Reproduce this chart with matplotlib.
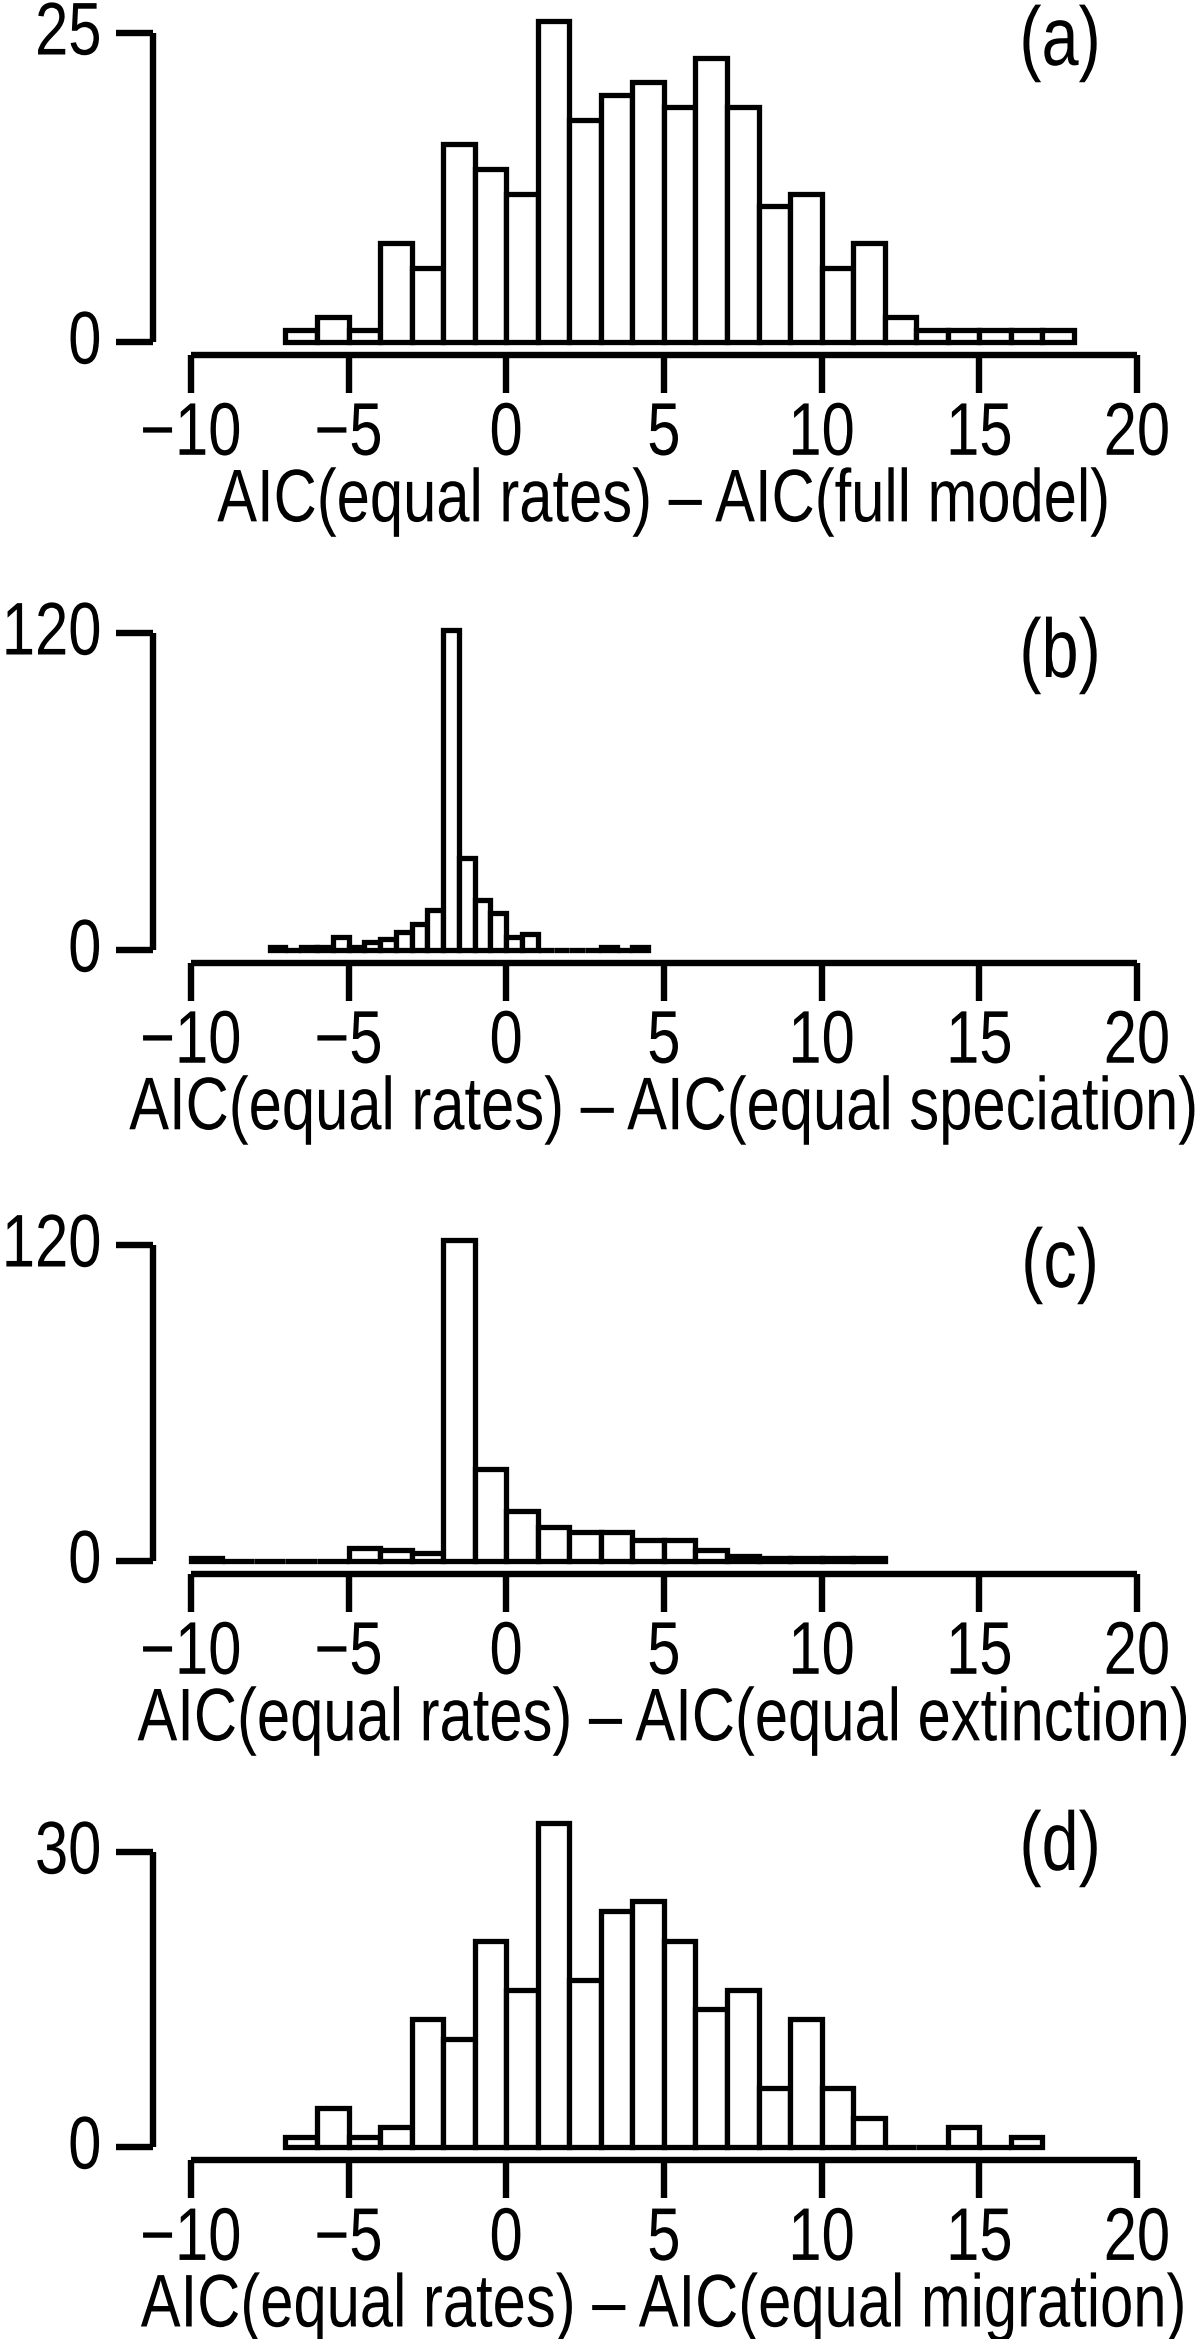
import numpy as np
import matplotlib
matplotlib.use("Agg")
import matplotlib.pyplot as plt
from matplotlib.patheffects import AbstractPathEffect
from matplotlib.transforms import Affine2D

# ---------------- data ----------------
a_start, a_width = -7, 1
a_counts = [1, 2, 1, 8, 6, 16, 14, 12, 26, 18, 20, 21, 19, 23, 19, 11, 12, 6, 8, 2, 1, 1, 1, 1, 1]
b_start, b_width = -7.5, 0.5
b_counts = [1, 0, 1, 1, 5, 1, 3, 4, 7, 10, 15, 121, 35, 19, 14, 5, 6, 0, 0, 0, 0, 1, 0, 1]
c_start, c_width = -10, 1
c_counts = [1, 0, 0, 0, 0, 5, 4, 3, 122, 35, 19, 13, 11, 11, 8, 8, 4, 2, 1, 1, 1, 1]
d_start, d_width = -7, 1
d_counts = [1, 4, 1, 2, 13, 11, 21, 16, 33, 17, 24, 25, 21, 14, 16, 6, 13, 6, 3, 0, 0, 2, 0, 1]

x_ticks = [-10, -5, 0, 5, 10, 15, 20]
x_tick_labels = ["\u221210", "\u22125", "0", "5", "10", "15", "20"]
y_ticks = [[0, 25], [0, 120], [0, 120], [0, 30]]
x_labels = ["AIC(equal rates) \u2013 AIC(full model)",
            "AIC(equal rates) \u2013 AIC(equal speciation)",
            "AIC(equal rates) \u2013 AIC(equal extinction)",
            "AIC(equal rates) \u2013 AIC(equal migration)"]
tags = ["(a)", "(b)", "(c)", "(d)"]

panels = [(a_start, a_width, a_counts), (b_start, b_width, b_counts),
          (c_start, c_width, c_counts), (d_start, d_width, d_counts)]

# ---------------- layout (pixels) ----------------
W, H, DPI = 1200, 2339, 100
zero_px = [342, 950, 1561, 2147]
toptick_px = [33, 633, 1245, 1852]
tag_px = [48, 660, 1270, 1853]
xm10_px, x20_px = 190.8, 1137.0
LW_BAR = 3.8
LW_AX = 4.6
FS, FS_TAG = 43, 48
STRETCH = 1.25


class VStretch(AbstractPathEffect):
    """Stretch glyphs vertically about their baseline (text stays text)."""
    def __init__(self, k):
        super().__init__()
        self.k = k

    def draw_path(self, renderer, gc, tpath, affine, rgbFace=None):
        x0, y0 = affine.transform((0, 0))
        st = Affine2D().translate(-x0, -y0).scale(1, self.k).translate(x0, y0)
        renderer.draw_path(gc, tpath, affine + st, rgbFace)


plt.rcParams['font.family'] = ['Liberation Sans', 'DejaVu Sans']
fig = plt.figure(figsize=(W / DPI, H / DPI), dpi=DPI)
pe = [VStretch(STRETCH)]

ppu = (x20_px - xm10_px) / 30.0
left_px = xm10_px - 1.2 * ppu
right_px = x20_px + 1.2 * ppu

for i, (start, width, counts) in enumerate(panels):
    counts = np.asarray(counts, dtype=float)
    ymax = counts.max()
    ytop_val = y_ticks[i][-1]
    ppc = (zero_px[i] - toptick_px[i]) / ytop_val
    bot_px = zero_px[i] + 0.04 * ymax * ppc
    top_px = zero_px[i] - 1.04 * ymax * ppc
    ax = fig.add_axes([left_px / W, 1 - bot_px / H,
                       (right_px - left_px) / W, (bot_px - top_px) / H])
    ax.set_xlim(-11.2, 21.2)
    ax.set_ylim(-0.04 * ymax, 1.04 * ymax)
    edges = start + width * np.arange(len(counts))
    ax.bar(edges, counts, width=width, align='edge', facecolor='white',
           edgecolor='black', linewidth=LW_BAR, clip_on=False)
    for s in ['top', 'right']:
        ax.spines[s].set_visible(False)
    ax.spines['left'].set_bounds(y_ticks[i][0], y_ticks[i][-1])
    ax.spines['bottom'].set_bounds(-10, 20)
    for s in ['left', 'bottom']:
        ax.spines[s].set_linewidth(LW_AX)
        ax.spines[s].set_capstyle('butt')
    ax.set_xticks(x_ticks)
    ax.set_xticklabels(x_tick_labels)
    ax.set_yticks(y_ticks[i])
    ax.set_yticklabels([str(v) for v in y_ticks[i]])
    ax.tick_params(axis='both', direction='out', length=27, width=LW_AX,
                   labelsize=FS)
    ax.tick_params(axis='x', pad=14)
    ax.tick_params(axis='y', pad=10)
    for lab in ax.get_xticklabels() + ax.get_yticklabels():
        lab.set_path_effects(pe)
    ax.set_xlabel(x_labels[i], fontsize=FS)
    ax.xaxis.label.set_va('center')
    ax.xaxis.label.set_path_effects(pe)
    ax.xaxis.set_label_coords(0.5, -151.0 / (bot_px - top_px))
    fig.text(1060 / W, 1 - tag_px[i] / H, tags[i], fontsize=FS_TAG,
             ha='center', va='center', path_effects=pe)

fig.savefig("out.png", dpi=DPI)
